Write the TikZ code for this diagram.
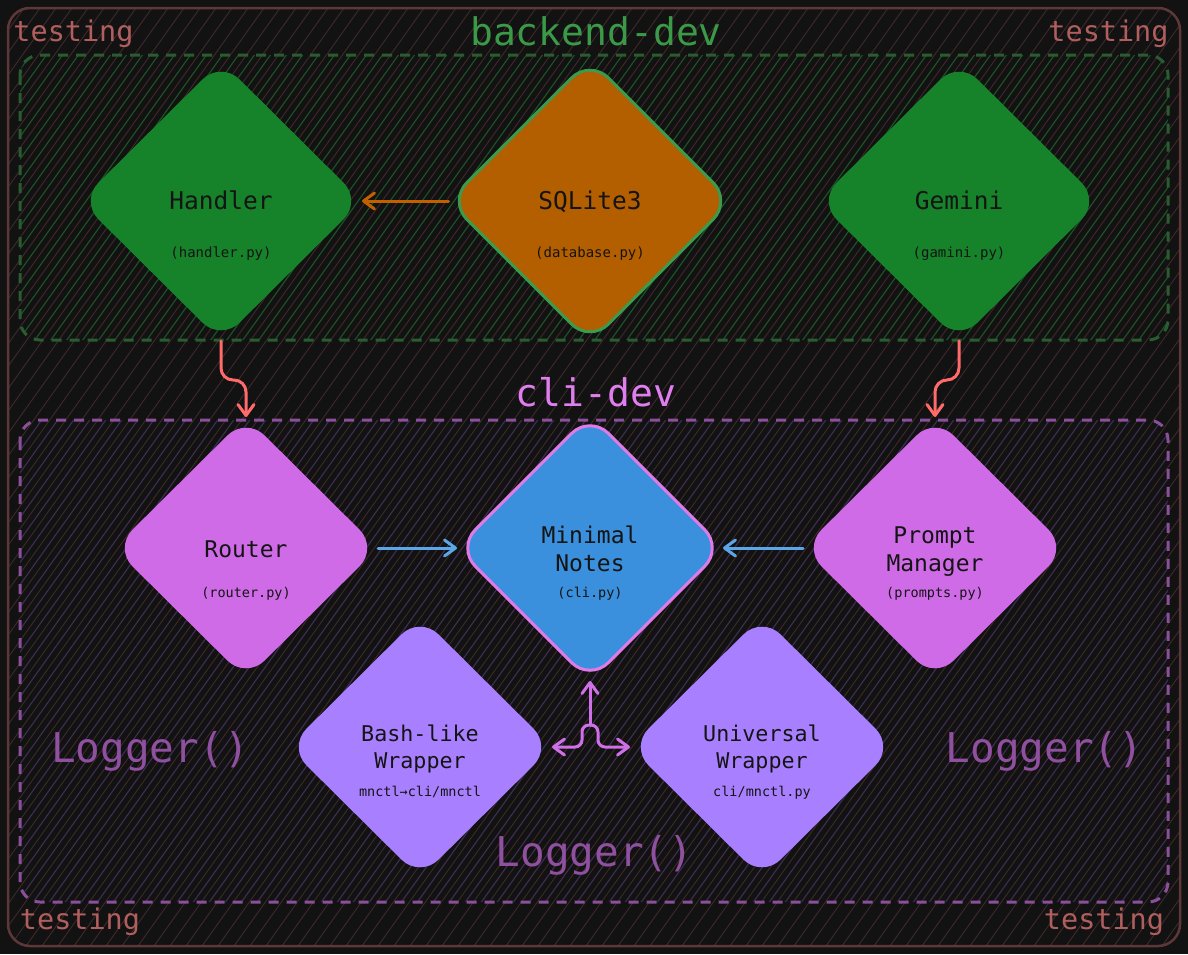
\documentclass[tikz,border=0pt]{standalone}
\usepackage{fontspec}
\setmainfont{DejaVu Sans Mono}
\setmonofont{DejaVu Sans Mono}
\usetikzlibrary{shapes.geometric,arrows.meta,calc}
\definecolor{bg}{HTML}{121212}
\definecolor{outerc}{HTML}{5E3838}
\definecolor{outhatch}{HTML}{3C2828}
\definecolor{testc}{HTML}{B05E5E}
\definecolor{gdash}{HTML}{2A5C30}
\definecolor{ghatch}{HTML}{1E5026}
\definecolor{gtitle}{HTML}{3A9A48}
\definecolor{gfill}{HTML}{16832A}
\definecolor{ofill}{HTML}{B35F00}
\definecolor{oborder}{HTML}{3C9A4C}
\definecolor{pdash}{HTML}{8A509A}
\definecolor{phatch}{HTML}{3C2C4E}
\definecolor{ptitle}{HTML}{E07EF0}
\definecolor{pfill}{HTML}{D06BE8}
\definecolor{bfill}{HTML}{3A90DD}
\definecolor{bborder}{HTML}{E07AE8}
\definecolor{lfill}{HTML}{A880FF}
\definecolor{logc}{HTML}{9050A0}
\definecolor{txt}{HTML}{141414}
\definecolor{redarr}{HTML}{FF6B6B}
\definecolor{bluearr}{HTML}{5AA6E6}
\definecolor{magarr}{HTML}{D070E8}
\definecolor{orarr}{HTML}{C06000}
\begin{document}
\begin{tikzpicture}[x=1pt,y=-1pt,
  dia/.style={diamond, aspect=1, inner sep=0pt, outer sep=0pt, rounded corners=26pt},
  bigdia/.style={dia, minimum width=282pt, minimum height=280pt},
  smalldia/.style={dia, minimum width=264pt, minimum height=262pt},
  lbl/.style={anchor=base, text=txt, inner sep=0pt},
  ttop/.style={lbl, font=\fontsize{24.5}{28}\selectfont},
  tmid/.style={lbl, font=\fontsize{23}{28}\selectfont},
  twrap/.style={lbl, font=\fontsize{21.7}{28}\selectfont},
  tsmall/.style={lbl, font=\fontsize{13.5}{16}\selectfont},
  tsmalltop/.style={lbl, font=\fontsize{14}{16}\selectfont},
  testing/.style={anchor=base, inner sep=0pt, text=testc, font=\fontsize{28.5}{32}\selectfont},
  logger/.style={anchor=base, inner sep=0pt, text=logc, font=\fontsize{41}{46}\selectfont},
  conn/.style={line width=3pt, line cap=round, -{Straight Barb[length=11pt,width=16pt,line cap=round,line join=round]}},
  dashbox/.style={line width=3pt, rounded corners=20pt, dash pattern=on 10pt off 8pt}
]
\fill[bg] (0,0) rectangle (1188,954);
\useasboundingbox (0,0) rectangle (1188,954);

% outer hatch
\begin{scope}
  \clip[rounded corners=22pt] (8,8) rectangle (1180,946);
  \foreach \i in {-46,...,76} \draw[outhatch, line width=1pt] (\i*16,960) -- ++(690,-966);
\end{scope}
% backend hatch
\begin{scope}
  \clip[rounded corners=20pt] (20,55) rectangle (1168,340);
  \foreach \i in {-46,...,76} \draw[ghatch, line width=1.2pt] (\i*16+8,960) -- ++(690,-966);
\end{scope}
% cli hatch
\begin{scope}
  \clip[rounded corners=20pt] (20,420) rectangle (1168,902);
  \foreach \i in {-46,...,76} \draw[phatch, line width=1.2pt] (\i*16+8,960) -- ++(690,-966);
\end{scope}

\draw[outerc, line width=2.5pt, rounded corners=22pt] (8,8) rectangle (1180,946);
\draw[gdash, dashbox] (20,55) rectangle (1168,340);
\draw[pdash, dashbox] (20,420) rectangle (1168,902);

% titles
\node[testing] (t1) at (73.5,41) {testing};
\node[testing] (t2) at (1108.5,41) {testing};
\node[testing] (t3) at (80,929) {testing};
\node[testing] (t4) at (1104,929) {testing};
\node[anchor=base, inner sep=0pt, text=gtitle, font=\fontsize{38}{42}\selectfont] (bt) at (596,45) {backend-dev};
\node[anchor=base, inner sep=0pt, text=ptitle, font=\fontsize{38}{42}\selectfont] (ct) at (596,406) {cli-dev};
\node[logger] (lg1) at (150,762) {Logger()};
\node[logger] (lg2) at (1044.5,762) {Logger()};
\node[logger] (lg3) at (594.5,866) {Logger()};

% diamonds
\node[bigdia, fill=gfill] (handler) at (221,201) {};
\node[bigdia, fill=ofill, draw=oborder, line width=3pt, minimum width=283pt, minimum height=283pt] (sqlite) at (590,201) {};
\node[bigdia, fill=gfill] (gemini) at (959,201) {};
\node[smalldia, fill=pfill] (router) at (246,548) {};
\node[smalldia, fill=bfill, draw=bborder, line width=3pt, minimum width=266pt, minimum height=266pt] (minimal) at (590,548) {};
\node[smalldia, fill=pfill] (prompt) at (935,548) {};
\node[smalldia, fill=lfill] (bash) at (420,747) {};
\node[smalldia, fill=lfill] (universal) at (762,747) {};

% labels
\node[ttop] (handlerT) at (221,209) {Handler};
\node[tsmalltop] (handlerS) at (221,257) {(handler.py)};
\node[ttop] (sqliteT) at (590,209) {SQLite3};
\node[tsmalltop] (sqliteS) at (590,257) {(database.py)};
\node[ttop] (geminiT) at (959,209) {Gemini};
\node[tsmalltop] (geminiS) at (959,257) {(gamini.py)};

\node[tmid] (routerT) at (246,557) {Router};
\node[tsmall] (routerS) at (246,597) {(router.py)};
\node[tmid] (minimalT1) at (590,543) {Minimal};
\node[tmid] (minimalT2) at (590,571) {Notes};
\node[tsmall] (minimalS) at (590,597) {(cli.py)};
\node[tmid] (promptT1) at (935,543) {Prompt};
\node[tmid] (promptT2) at (935,571) {Manager};
\node[tsmall] (promptS) at (935,597) {(prompts.py)};
\node[twrap] (bashT1) at (420,741) {Bash-like};
\node[twrap] (bashT2) at (420,768) {Wrapper};
\node[tsmall] (bashS) at (420,796) {mnctl→cli/mnctl};
\node[twrap] (uniT1) at (762,741) {Universal};
\node[twrap] (uniT2) at (762,768) {Wrapper};
\node[tsmall] (uniS) at (762,796) {cli/mnctl.py};

% connectors
\draw[conn, orarr] (sqlite.west) -- (handler.east);
\draw[conn, redarr, rounded corners=12pt] (handler.south) -- ++(0,39) -| (router.north);
\draw[conn, redarr, rounded corners=12pt] (gemini.south) -- ++(0,39) -| (prompt.north);
\draw[conn, bluearr] (router.east) -- (minimal.west);
\draw[conn, bluearr] (prompt.west) -- (minimal.east);

\coordinate (j) at (590,725);
\coordinate (jl) at (582,747);
\coordinate (jr) at (598,747);
\draw[conn, magarr] (j) -- (minimal.south);
\draw[conn, magarr, rounded corners=7pt] (j) -| (jl) -- (bash.east);
\draw[conn, magarr, rounded corners=7pt] (j) -| (jr) -- (universal.west);
\end{tikzpicture}
\end{document}
